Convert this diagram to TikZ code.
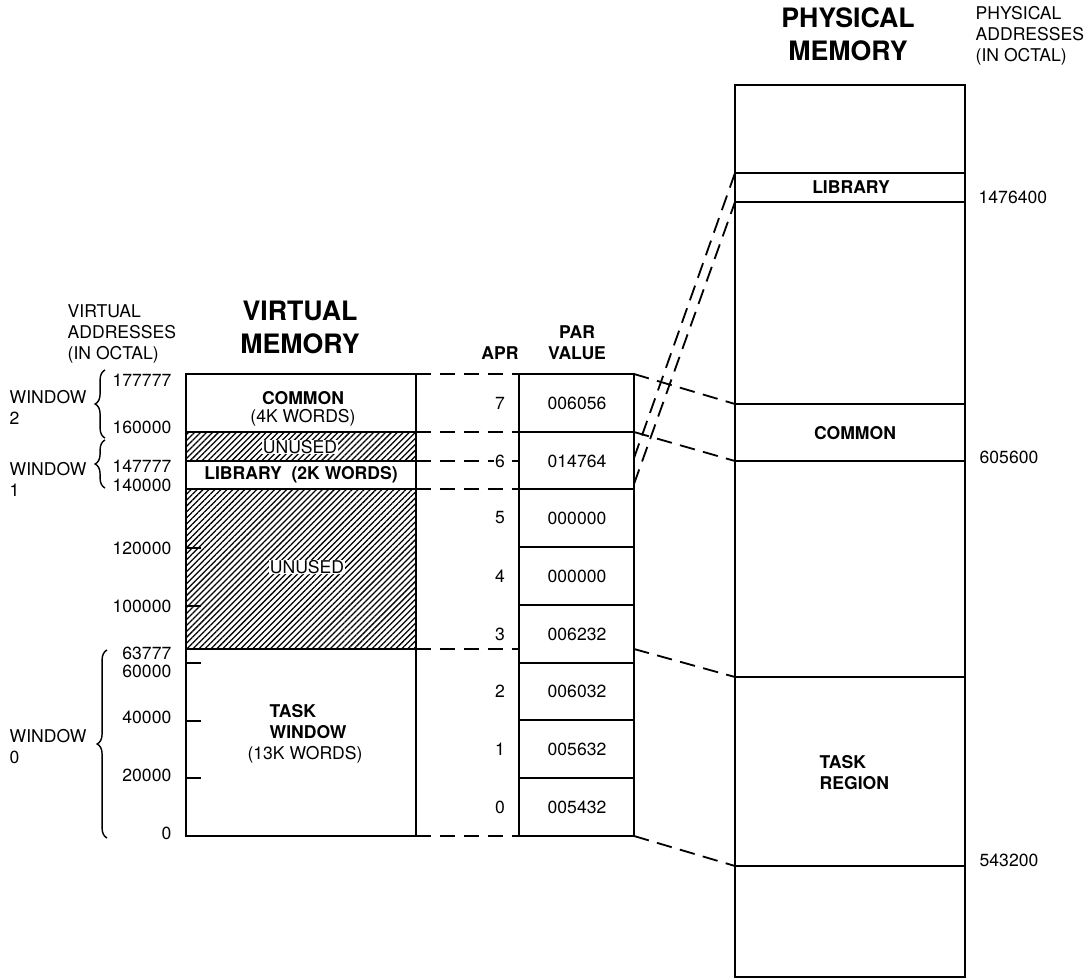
\documentclass[tikz,border=0pt]{standalone}
\usepackage{fontspec}
\setmainfont{TeX Gyre Heros}
\usetikzlibrary{patterns.meta,decorations.pathreplacing}

\newcommand{\lblfont}{\fontsize{12.5}{15}\selectfont}
\newcommand{\hdrfont}{\fontsize{19}{23.5}\selectfont\bfseries}

\tikzset{
  lbl/.style={font=\lblfont, inner sep=1pt},
  tag/.style={font=\lblfont\bfseries, inner sep=1pt},
  hdr/.style={font=\hdrfont, align=center},
  outline/.style={line width=2pt},
  divider/.style={line width=1.3pt},
  link/.style={line width=1.3pt, dash pattern=on 11pt off 6pt},
  hatch/.style={pattern={Lines[angle=45, distance=3pt, line width=0.9pt]}},
  winbrace/.style={line width=1pt, decorate, decoration={brace, amplitude=7pt}},
}

\begin{document}
\begin{tikzpicture}[x=0.025cm, y=-0.025cm]
  \useasboundingbox (0,0) rectangle (1088,979);

  % Coordinates
  \coordinate (V1) at (416,374);
  \coordinate (V2) at (416,432);
  \coordinate (V3) at (416,461);
  \coordinate (V4) at (416,489);
  \coordinate (V5) at (416,649);
  \coordinate (V6) at (416,836);
  \coordinate (P1) at (519,374);
  \coordinate (P2) at (519,432);
  \coordinate (P3) at (519,461);
  \coordinate (P4) at (519,489);
  \coordinate (P5) at (519,649);
  \coordinate (P6) at (519,836);
  \coordinate (R1) at (634,374);
  \coordinate (R2) at (634,432);
  \coordinate (R3) at (634,458);
  \coordinate (R4) at (634,484);
  \coordinate (R5) at (634,649);
  \coordinate (R6) at (634,836);
  \coordinate (M1) at (735,404);
  \coordinate (M2) at (735,461);
  \coordinate (M3) at (735,173);
  \coordinate (M4) at (735,202);
  \coordinate (M5) at (735,677);
  \coordinate (M6) at (735,866);

  % Headers
  \node[hdr] (vmem) at (300,327) {VIRTUAL\\MEMORY};
  \node[hdr] (pmem) at (848,34) {PHYSICAL\\MEMORY};
  \node[lbl, align=left, anchor=west] (vaddr) at (66,334) {VIRTUAL\\ADDRESSES\\(IN OCTAL)};
  \node[lbl, align=left, anchor=west] (paddr) at (974,36) {PHYSICAL\\ADDRESSES\\(IN OCTAL)};
  \node[tag] (apr) at (500,353) {APR};
  \node[tag, align=center] (par) at (577,343) {PAR\\VALUE};

  % Virtual memory
  \fill[hatch] (186,432) rectangle (416,461);
  \fill[hatch] (186,489) rectangle (416,649);
  \draw[divider] (186,432) -- (416,432);
  \draw[divider] (186,461) -- (416,461);
  \draw[divider] (186,489) -- (416,489);
  \draw[divider] (186,649) -- (416,649);
  \draw[outline] (186,374) rectangle (416,836);
  \draw[divider] (186,548) -- (201,548);
  \draw[divider] (186,606) -- (201,606);
  \draw[divider] (186,663) -- (201,663);
  \draw[divider] (186,721) -- (201,721);
  \draw[divider] (186,778) -- (201,778);
  \node[tag] (common) at (303,398) {COMMON};
  \node[lbl] (commonsz) at (303,418) {(4K WORDS)};
  \node[lbl, fill=white, inner sep=0.5pt] (unused1) at (300,447) {UNUSED};
  \node[tag] (library) at (301,475) {LIBRARY\ \ (2K WORDS)};
  \node[lbl, fill=white, inner sep=0.5pt] (unused2) at (307,567) {UNUSED};
  \node[tag, align=left, anchor=west] (task) at (268,722) {TASK\\WINDOW};
  \node[lbl] (tasksz) at (305,755) {(13K WORDS)};

  % Virtual addresses
  \node[lbl, anchor=east] (a1) at (173,380) {177777};
  \node[lbl, anchor=east] (a2) at (173,427) {160000};
  \node[lbl, anchor=east] (a3) at (173,466) {147777};
  \node[lbl, anchor=east] (a4) at (173,485) {140000};
  \node[lbl, anchor=east] (a5) at (173,548) {120000};
  \node[lbl, anchor=east] (a6) at (173,606) {100000};
  \node[lbl, anchor=east] (a7) at (173,653) {63777};
  \node[lbl, anchor=east] (a8) at (173,671) {60000};
  \node[lbl, anchor=east] (a9) at (173,717) {40000};
  \node[lbl, anchor=east] (a10) at (173,775) {20000};
  \node[lbl, anchor=east] (a11) at (173,833) {0};
  \draw[winbrace] (105,438) -- (105,370);
  \draw[winbrace] (105,488) -- (105,440);
  \draw[winbrace] (107,838) -- (107,650);
  \node[lbl, align=left, anchor=west] (w2) at (8,407) {WINDOW\\2};
  \node[lbl, align=left, anchor=west] (w1) at (8,479) {WINDOW\\1};
  \node[lbl, align=left, anchor=west] (w0) at (8,747) {WINDOW\\0};

  % PAR column
  \draw[divider] (519,432) -- (634,432);
  \draw[divider] (519,489) -- (634,489);
  \draw[divider] (519,547) -- (634,547);
  \draw[divider] (519,605) -- (634,605);
  \draw[divider] (519,663) -- (634,663);
  \draw[divider] (519,720) -- (634,720);
  \draw[divider] (519,778) -- (634,778);
  \draw[outline] (519,374) rectangle (634,836);
  \node[lbl] (pv7) at (577,403) {006056};
  \node[lbl] (pv6) at (577,461) {014764};
  \node[lbl] (pv5) at (577,518) {000000};
  \node[lbl] (pv4) at (577,576) {000000};
  \node[lbl] (pv3) at (577,634) {006232};
  \node[lbl] (pv2) at (577,691) {006032};
  \node[lbl] (pv1) at (577,749) {005632};
  \node[lbl] (pv0) at (577,807) {005432};

  % Physical memory
  \draw[divider] (735,173) -- (965,173);
  \draw[divider] (735,202) -- (965,202);
  \draw[divider] (735,404) -- (965,404);
  \draw[divider] (735,461) -- (965,461);
  \draw[divider] (735,677) -- (965,677);
  \draw[divider] (735,866) -- (965,866);
  \draw[outline] (735,85) rectangle (965,977);
  \node[tag] (plib) at (851,187) {LIBRARY};
  \node[tag] (pcommon) at (855,433) {COMMON};
  \node[tag, align=left, anchor=west] (ptask) at (818,773) {TASK\\REGION};
  \node[lbl, anchor=west] (b1) at (977,197) {1476400};
  \node[lbl, anchor=west] (b2) at (978,457) {605600};
  \node[lbl, anchor=west] (b3) at (978,860) {543200};

  % Mapping
  \draw[link] (V1) -- (P1);
  \draw[link] (V2) -- (P2);
  \draw[link] (V3) -- (P3);
  \draw[link] (V4) -- (P4);
  \draw[link] (V5) -- (P5);
  \draw[link] (V6) -- (P6);
  \draw[link] (R1) -- (M1);
  \draw[link] (R2) -- (M2);
  \draw[link] (R3) -- (M3);
  \draw[link] (R4) -- (M4);
  \draw[link] (R5) -- (M5);
  \draw[link] (R6) -- (M6);

  % APR numbers
  \node[lbl] (n7) at (500,403) {7};
  \node[lbl, fill=white] (n6) at (500,461) {6};
  \node[lbl] (n5) at (500,518) {5};
  \node[lbl] (n4) at (500,576) {4};
  \node[lbl] (n3) at (500,634) {3};
  \node[lbl] (n2) at (500,691) {2};
  \node[lbl] (n1) at (500,749) {1};
  \node[lbl] (n0) at (500,807) {0};
\end{tikzpicture}
\end{document}
